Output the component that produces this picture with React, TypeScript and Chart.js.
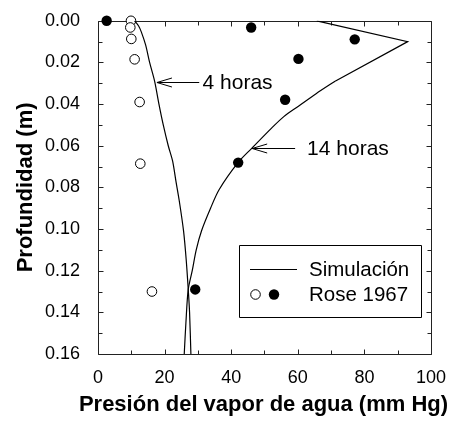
import { useEffect, useRef } from "react";
import { Chart, registerables } from "chart.js";

Chart.register(...registerables);

// Simulación 4 horas
const sim4Pressure = [11.0, 12.2, 13.0, 14.3, 15.5, 17.0, 18.3, 19.6, 21.1, 22.4, 23.4, 24.4, 25.7, 26.5, 27.1, 27.5, 27.9];
const sim4Depth = [0, 0.0025, 0.0053, 0.0116, 0.02, 0.029, 0.04, 0.05, 0.06, 0.0673, 0.077, 0.0864, 0.101, 0.115, 0.129, 0.14, 0.16];

// Simulación 14 horas (tramo superior, con pico)
const sim14TopPressure = [65.7, 93.0, 71.2];
const sim14TopDepth = [0, 0.01, 0.029];
// Simulación 14 horas (tramo inferior)
const sim14Pressure = [71.2, 65.5, 60.2, 55.8, 52.2, 46.3, 42.1, 36.4, 33.8, 31.1, 29.5, 28.3, 27.1, 26.4, 25.9];
const sim14Depth = [0.029, 0.035, 0.041, 0.046, 0.0514, 0.061, 0.068, 0.081, 0.09, 0.1008, 0.11, 0.12, 0.129, 0.145, 0.16];

// Rose 1967 (4 horas, círculos abiertos)
const rose4Pressure = [9.9, 9.7, 10.0, 11.0, 12.5, 12.7, 16.2];
const rose4Depth = [0.0, 0.0032, 0.0087, 0.0185, 0.039, 0.0686, 0.13];

// Rose 1967 (14 horas, círculos llenos)
const rose14Pressure = [2.6, 46.0, 77.1, 60.2, 56.2, 42.1, 29.2];
const rose14Depth = [0.0, 0.0032, 0.0089, 0.0183, 0.0379, 0.0681, 0.129];

const xTickValues = [0, 20, 40, 60, 80, 100];
const yTickValues = [0, 0.02, 0.04, 0.06, 0.08, 0.1, 0.12, 0.14, 0.16];

const xTitle = "Presión del vapor de agua (mm Hg)";
const yTitle = "Profundidad (m)";
const legendLine = "Simulación";
const legendPoints = "Rose 1967";
const label4 = "4 horas";
const label14 = "14 horas";

// Annotation anchors (data coords): arrow head, arrow tail, text x
const arrow4 = { head: [17.7, 0.0295], tailX: 30.4, textX: 31.4 };
const arrow14 = { head: [46.3, 0.061], tailX: 59.2, textX: 62.8 };

const FONT = "'Liberation Sans', Arial, Helvetica, sans-serif";

const pts = (xs: number[], ys: number[]) => xs.map((v, i) => ({ x: v, y: ys[i] }));

const overlay = {
  id: "overlay",
  beforeDatasetsDraw(chart: any) {
    const { ctx, chartArea: a, scales } = chart;
    const x = scales.x;
    const y = scales.y;
    ctx.save();
    ctx.strokeStyle = "#222";
    ctx.lineWidth = 1;
    const L = Math.round(a.left) + 0.5;
    const R = Math.round(a.right) + 0.5;
    const T = Math.round(a.top) + 0.5;
    const B = Math.round(a.bottom) + 0.5;
    ctx.beginPath();
    ctx.rect(L, T, R - L, B - T);
    ctx.stroke();
    ctx.beginPath();
    for (let v = 0; v <= 100; v += 10) {
      const px = Math.round(x.getPixelForValue(v)) + 0.5;
      const len = v % 20 === 0 ? 5 : 4;
      ctx.moveTo(px, B);
      ctx.lineTo(px, B - len);
      ctx.moveTo(px, T);
      ctx.lineTo(px, T + len);
    }
    for (let k = 0; k <= 16; k++) {
      const py = Math.round(y.getPixelForValue(k / 100)) + 0.5;
      const len = k % 2 === 0 ? 5 : 4;
      ctx.moveTo(L, py);
      ctx.lineTo(L + len, py);
      ctx.moveTo(R, py);
      ctx.lineTo(R - len, py);
    }
    ctx.stroke();
    ctx.restore();
  },
  afterDraw(chart: any) {
    const { ctx, scales, chartArea: a } = chart;
    const x = scales.x;
    const y = scales.y;
    ctx.save();
    ctx.strokeStyle = "#000";
    ctx.fillStyle = "#000";
    ctx.lineWidth = 1;
    ctx.font = `21px ${FONT}`;
    ctx.textBaseline = "middle";
    ctx.textAlign = "left";

    const drawArrow = (an: any, text: string) => {
      const hx = x.getPixelForValue(an.head[0]);
      const hy = Math.round(y.getPixelForValue(an.head[1])) + 0.5;
      const tx = x.getPixelForValue(an.tailX);
      ctx.beginPath();
      ctx.moveTo(tx, hy);
      ctx.lineTo(hx, hy);
      ctx.moveTo(hx + 15, hy - 4.5);
      ctx.lineTo(hx, hy);
      ctx.lineTo(hx + 15, hy + 4.5);
      ctx.stroke();
      ctx.fillText(text, x.getPixelForValue(an.textX), hy + 1);
    };
    drawArrow(arrow4, label4);
    drawArrow(arrow14, label14);

    // legend box
    ctx.font = `20.5px ${FONT}`;
    const bx = 239.5, by = 245.5, bw = 182, bh = 72;
    ctx.beginPath();
    ctx.rect(bx, by, bw, bh);
    ctx.fillStyle = "#fff";
    ctx.fill();
    ctx.stroke();
    ctx.fillStyle = "#000";
    ctx.beginPath();
    ctx.moveTo(250, 269.5);
    ctx.lineTo(297, 269.5);
    ctx.stroke();
    ctx.beginPath();
    ctx.arc(255.5, 294.5, 4.8, 0, Math.PI * 2);
    ctx.fillStyle = "#fff";
    ctx.fill();
    ctx.stroke();
    ctx.beginPath();
    ctx.arc(274, 294.5, 5.2, 0, Math.PI * 2);
    ctx.fillStyle = "#000";
    ctx.fill();
    ctx.fillText(legendLine, 309, 270);
    ctx.fillText(legendPoints, 309, 295);

    // axis titles
    ctx.font = `bold 22px ${FONT}`;
    ctx.textAlign = "center";
    ctx.fillText(xTitle, (a.left + a.right) / 2 - 1, 405);
    ctx.translate(26, (a.top + a.bottom) / 2);
    ctx.rotate(-Math.PI / 2);
    ctx.fillText(yTitle, 0, 0);
    ctx.restore();
  },
};

export default function App() {
  const ref = useRef<HTMLCanvasElement>(null);
  useEffect(() => {
    if (!ref.current) return;
    const lineStyle = {
      showLine: true,
      borderColor: "#000",
      borderWidth: 1.2,
      pointRadius: 0,
      fill: false,
    };
    const chart = new Chart(ref.current, {
      type: "scatter",
      data: {
        datasets: [
          { ...lineStyle, label: "Sim 4h", data: pts(sim4Pressure, sim4Depth), tension: 0.3 },
          { ...lineStyle, label: "Sim 14h a", data: pts(sim14TopPressure, sim14TopDepth), tension: 0 },
          { ...lineStyle, label: "Sim 14h b", data: pts(sim14Pressure, sim14Depth), tension: 0.3 },
          {
            label: "Rose 4h",
            data: pts(rose4Pressure, rose4Depth),
            pointRadius: 4.8,
            pointBackgroundColor: "#fff",
            pointBorderColor: "#000",
            pointBorderWidth: 1,
            showLine: false,
            clip: false,
          },
          {
            label: "Rose 14h",
            data: pts(rose14Pressure, rose14Depth),
            pointRadius: 5.2,
            pointBackgroundColor: "#000",
            pointBorderColor: "#000",
            pointBorderWidth: 0,
            showLine: false,
            clip: false,
          },
        ] as any,
      },
      options: {
        animation: false,
        responsive: false,
        devicePixelRatio: 1,
        layout: { padding: { left: 0, top: 19, right: 17, bottom: 0 } },
        plugins: { legend: { display: false }, tooltip: { enabled: false } },
        scales: {
          x: {
            type: "linear",
            min: 0,
            max: 100,
            afterFit: (s: any) => {
              s.height = 69;
            },
            afterBuildTicks: (s: any) => {
              s.ticks = xTickValues.map((v) => ({ value: v }));
            },
            grid: { display: false },
            border: { display: false },
            ticks: {
              color: "#000",
              font: { family: FONT, size: 18 },
              padding: 5,
              callback: (v: any) => String(v),
            },
            title: { display: false },
          },
          y: {
            type: "linear",
            reverse: true,
            min: 0,
            max: 0.16,
            afterFit: (s: any) => {
              s.width = 98;
            },
            afterBuildTicks: (s: any) => {
              s.ticks = yTickValues.map((v) => ({ value: v }));
            },
            grid: { display: false },
            border: { display: false },
            ticks: {
              color: "#000",
              font: { family: FONT, size: 18 },
              padding: 10,
              callback: (v: any) => Number(v).toFixed(2),
            },
            title: { display: false },
          },
        },
      } as any,
      plugins: [overlay],
    });
    return () => chart.destroy();
  }, []);
  return (
    <div style={{ position: "fixed", left: 0, top: 0, width: 451, height: 423, background: "#fff" }}>
      <canvas ref={ref} width={451} height={423} style={{ width: 451, height: 423, display: "block" }} />
    </div>
  );
}
